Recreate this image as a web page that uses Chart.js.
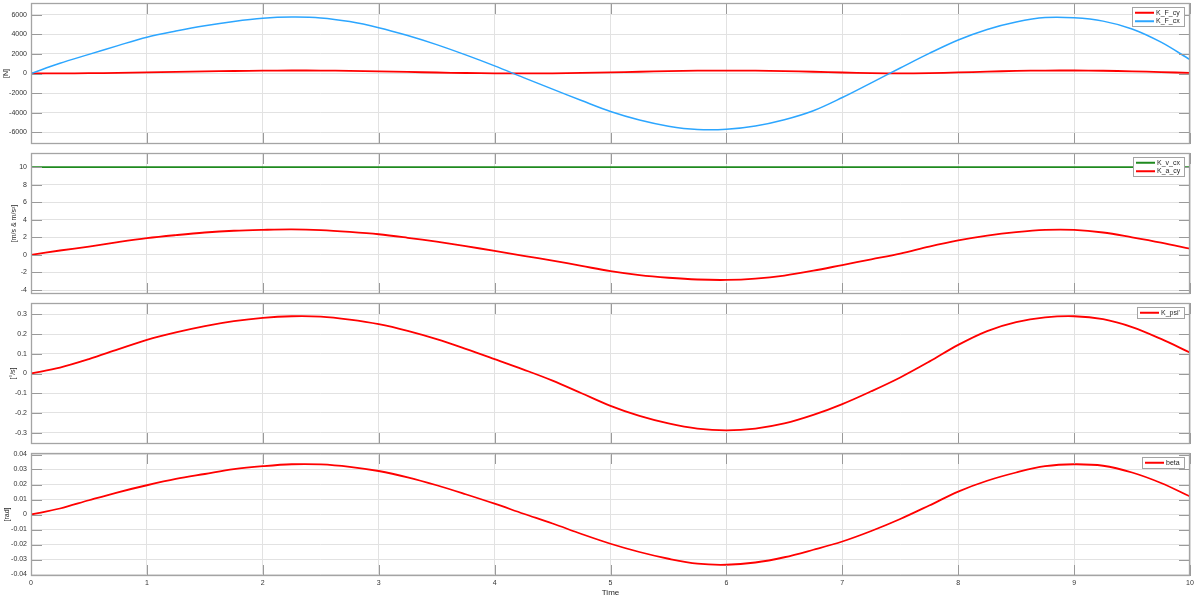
<!DOCTYPE html>
<html>
<head>
<meta charset="utf-8">
<script src="https://cdn.jsdelivr.net/npm/chart.js@4.4.0/dist/chart.umd.min.js"></script>
<style>
  html, body { margin: 0; padding: 0; background: #fff; }
  body { width: 1199px; height: 600px; position: relative; overflow: hidden; }
  canvas { position: absolute; left: 0; }
</style>
</head>
<body>
<canvas id="c1" width="1199" height="148" style="top:0px"></canvas>
<canvas id="c2" width="1199" height="149" style="top:149px"></canvas>
<canvas id="c3" width="1199" height="149" style="top:299px"></canvas>
<canvas id="c4" width="1199" height="151" style="top:449px"></canvas>
<script>
// time axis (s)
const time = [0, 0.25, 0.5, 0.75, 1, 1.25, 1.5, 1.75, 2, 2.25,
    2.5, 2.75, 3, 3.25, 3.5, 3.75, 4, 4.25, 4.5, 4.75,
    5, 5.25, 5.5, 5.75, 6, 6.25, 6.5, 6.75, 7, 7.25,
    7.5, 7.75, 8, 8.25, 8.5, 8.75, 9, 9.25, 9.5, 9.75, 10];

// forces [N]
const kFcy = [0, 10, 30, 60, 110, 160, 210, 255, 290, 305,
    300, 270, 220, 160, 100, 50, 15, 5, 20, 60,
    120, 180, 240, 285, 300, 290, 250, 180, 100, 35,
    10, 40, 110, 190, 260, 300, 305, 280, 220, 140, 60];
const kFcx = [0, 1050, 1950, 2850, 3700, 4330, 4880, 5320, 5640, 5760,
    5680, 5300, 4680, 3880, 2950, 1900, 780, -420, -1600, -2760,
    -3880, -4750, -5380, -5720, -5700, -5360, -4720, -3800, -2450, -950,
    560, 2050, 3420, 4500, 5260, 5710, 5690, 5350, 4550, 3200, 1420];

// speed & lateral acceleration
const kVcx = [10, 10, 10, 10, 10, 10, 10, 10, 10, 10,
    10, 10, 10, 10, 10, 10, 10, 10, 10, 10,
    10, 10, 10, 10, 10, 10, 10, 10, 10, 10,
    10, 10, 10, 10, 10, 10, 10, 10, 10, 10, 10];
const kAcy = [0, 0.5, 0.95, 1.45, 1.9, 2.25, 2.55, 2.75, 2.85, 2.9,
    2.82, 2.62, 2.35, 1.95, 1.5, 1.0, 0.45, -0.1, -0.65, -1.25,
    -1.85, -2.3, -2.6, -2.8, -2.85, -2.7, -2.35, -1.8, -1.15, -0.5,
    0.15, 0.95, 1.65, 2.2, 2.6, 2.85, 2.85, 2.55, 2.0, 1.4, 0.72];

// yaw rate
const kPsi = [0, 0.03, 0.073, 0.122, 0.17, 0.208, 0.24, 0.265, 0.282, 0.29,
    0.288, 0.273, 0.25, 0.216, 0.174, 0.125, 0.073, 0.02, -0.036, -0.1,
    -0.164, -0.215, -0.253, -0.279, -0.288, -0.279, -0.253, -0.21, -0.155, -0.09,
    -0.02, 0.06, 0.145, 0.215, 0.26, 0.284, 0.29, 0.275, 0.235, 0.175, 0.106];

// side slip angle
const beta = [0, 0.004, 0.0095, 0.0148, 0.0195, 0.0237, 0.027, 0.0302, 0.0322, 0.0335,
    0.0334, 0.0318, 0.029, 0.0248, 0.0195, 0.0135, 0.0072, 0.0005, -0.006, -0.013,
    -0.0195, -0.025, -0.0295, -0.0328, -0.0335, -0.032, -0.0285, -0.0235, -0.018, -0.011,
    -0.003, 0.006, 0.0153, 0.0225, 0.028, 0.0322, 0.0335, 0.0325, 0.028, 0.021, 0.012];

// ticks
const xTicks = [0, 1, 2, 3, 4, 5, 6, 7, 8, 9, 10];
const yTicksF = [-6000, -4000, -2000, 0, 2000, 4000, 6000];
const yTicksV = [-4, -2, 0, 2, 4, 6, 8, 10];
const yTicksPsi = [-0.3, -0.2, -0.1, 0, 0.1, 0.2, 0.3];
const yTicksBeta = [-0.04, -0.03, -0.02, -0.01, 0, 0.01, 0.02, 0.03, 0.04];

const FONT = "'Liberation Sans', Arial, sans-serif";
const RED = '#ff0000';
const BLUE = '#2ca6ff';
const GREEN = '#1f8a1f';

// matlab-like box + inward tick marks
const matlabAxes = {
    id: 'matlabAxes',
    afterDatasetsDraw(chart) {
        const { ctx, chartArea: ca, scales: { x, y } } = chart;
        const tl = 11;
        ctx.save();
        ctx.strokeStyle = '#9a9a9a';
        ctx.lineWidth = 1;
        ctx.beginPath();
        y.ticks.forEach(t => {
            const py = Math.round(y.getPixelForValue(t.value)) + 0.5;
            ctx.moveTo(ca.left, py); ctx.lineTo(ca.left + tl, py);
            ctx.moveTo(ca.right - tl, py); ctx.lineTo(ca.right, py);
        });
        x.ticks.forEach(t => {
            const px = Math.round(x.getPixelForValue(t.value)) + 0.5;
            ctx.moveTo(px, ca.top); ctx.lineTo(px, ca.top + tl);
            ctx.moveTo(px, ca.bottom - tl); ctx.lineTo(px, ca.bottom);
        });
        ctx.stroke();
        ctx.strokeStyle = '#a4a4a4';
        ctx.lineWidth = 1.3;
        ctx.strokeRect(Math.round(ca.left) + 0.5, Math.round(ca.top) + 0.5,
            Math.round(ca.width) - 1, Math.round(ca.height) - 1);
        ctx.restore();
    }
};

// legend box in the upper right corner
const boxLegend = {
    id: 'boxLegend',
    afterDraw(chart) {
        const { ctx, chartArea: ca } = chart;
        const sets = chart.data.datasets;
        ctx.save();
        ctx.font = '7px ' + FONT;
        const textW = Math.max(...sets.map(d => ctx.measureText(d.label).width));
        const rowH = 8.5;
        const w = Math.round(25 + textW + 3);
        const h = Math.round(sets.length * rowH + 2);
        const x0 = Math.round(ca.right - 6 - w);
        const y0 = Math.round(ca.top + 4);
        ctx.fillStyle = '#fff';
        ctx.fillRect(x0, y0, w, h);
        ctx.strokeStyle = '#a4a4a4';
        ctx.lineWidth = 1;
        ctx.strokeRect(x0 + 0.5, y0 + 0.5, w, h);
        sets.forEach((d, i) => {
            const cy = y0 + 1.5 + rowH * (i + 0.5);
            ctx.strokeStyle = d.borderColor;
            ctx.lineWidth = 2;
            ctx.beginPath();
            ctx.moveTo(x0 + 3, cy);
            ctx.lineTo(x0 + 22, cy);
            ctx.stroke();
            ctx.fillStyle = '#262626';
            ctx.textBaseline = 'middle';
            ctx.fillText(d.label, x0 + 24, cy);
        });
        ctx.restore();
    }
};

function makePanel(id, cfg) {
    const datasets = cfg.series.map(s => ({
        label: s.label,
        data: time.map((t, i) => ({ x: t, y: s.values[i] })),
        borderColor: s.color,
        borderWidth: s.width || 1.8,
        pointRadius: 0,
        tension: 0.35,
        fill: false,
        order: s.order || 0
    }));

    return new Chart(document.getElementById(id), {
        type: 'line',
        data: { datasets },
        options: {
            responsive: false,
            animation: false,
            devicePixelRatio: 1,
            layout: { padding: { top: cfg.padTop, bottom: cfg.padBottom, left: 0, right: 9 } },
            plugins: { legend: { display: false }, tooltip: { enabled: false } },
            scales: {
                x: {
                    type: 'linear',
                    min: 0,
                    max: 10,
                    afterBuildTicks: sc => { sc.ticks = xTicks.map(v => ({ value: v })); },
                    afterFit: sc => {
                        sc.height = cfg.showX ? 24 : 0;
                        sc.paddingLeft = 0;
                        sc.paddingRight = 0;
                    },
                    grid: { color: '#e2e2e2', lineWidth: 1, drawTicks: false },
                    border: { display: false },
                    ticks: {
                        display: cfg.showX,
                        padding: 3,
                        color: '#333',
                        font: { family: FONT, size: 7 },
                        maxRotation: 0,
                        autoSkip: false,
                        callback: v => String(v)
                    },
                    title: {
                        display: cfg.showX,
                        text: 'Time',
                        color: '#262626',
                        font: { family: FONT, size: 8 },
                        padding: { top: 0, bottom: 2.7 }
                    }
                },
                y: {
                    type: 'linear',
                    min: cfg.yMin,
                    max: cfg.yMax,
                    afterBuildTicks: sc => { sc.ticks = cfg.yTicks.map(v => ({ value: v })); },
                    afterFit: sc => {
                        sc.width = 31;
                        sc.paddingTop = 0;
                        sc.paddingBottom = 0;
                    },
                    grid: { color: '#e2e2e2', lineWidth: 1, drawTicks: false },
                    border: { display: false },
                    ticks: {
                        padding: 4,
                        color: '#333',
                        font: { family: FONT, size: 7 },
                        autoSkip: false,
                        callback: v => String(v)
                    },
                    title: {
                        display: true,
                        text: cfg.yTitle,
                        color: '#262626',
                        font: { family: FONT, size: 7 },
                        padding: { top: cfg.titlePad, bottom: 0 }
                    }
                }
            }
        },
        plugins: [matlabAxes, boxLegend]
    });
}

makePanel('c1', {
    series: [
        { label: 'K_F_cy', values: kFcy, color: RED, order: 1 },
        { label: 'K_F_cx', values: kFcx, color: BLUE, order: 0, width: 1.5 }
    ],
    yMin: -7200, yMax: 7200, yTicks: yTicksF, yTitle: '[N]', titlePad: 1.5,
    padTop: 3, padBottom: 4, showX: false
});

makePanel('c2', {
    series: [
        { label: 'K_v_cx', values: kVcx, color: GREEN, order: 1 },
        { label: 'K_a_cy', values: kAcy, color: RED, order: 0 }
    ],
    yMin: -4.45, yMax: 11.6, yTicks: yTicksV, yTitle: '[m/s & m/s²]', titlePad: 10,
    padTop: 4, padBottom: 4, showX: false
});

makePanel('c3', {
    series: [
        { label: "K_psi'", values: kPsi, color: RED }
    ],
    yMin: -0.357, yMax: 0.357, yTicks: yTicksPsi, yTitle: '[°/s]', titlePad: 8.5,
    padTop: 4, padBottom: 4, showX: false
});

makePanel('c4', {
    series: [
        { label: 'beta', values: beta, color: RED }
    ],
    yMin: -0.041, yMax: 0.041, yTicks: yTicksBeta, yTitle: '[rad]', titlePad: 3,
    padTop: 4, padBottom: 0, showX: true
});
</script>
</body>
</html>
